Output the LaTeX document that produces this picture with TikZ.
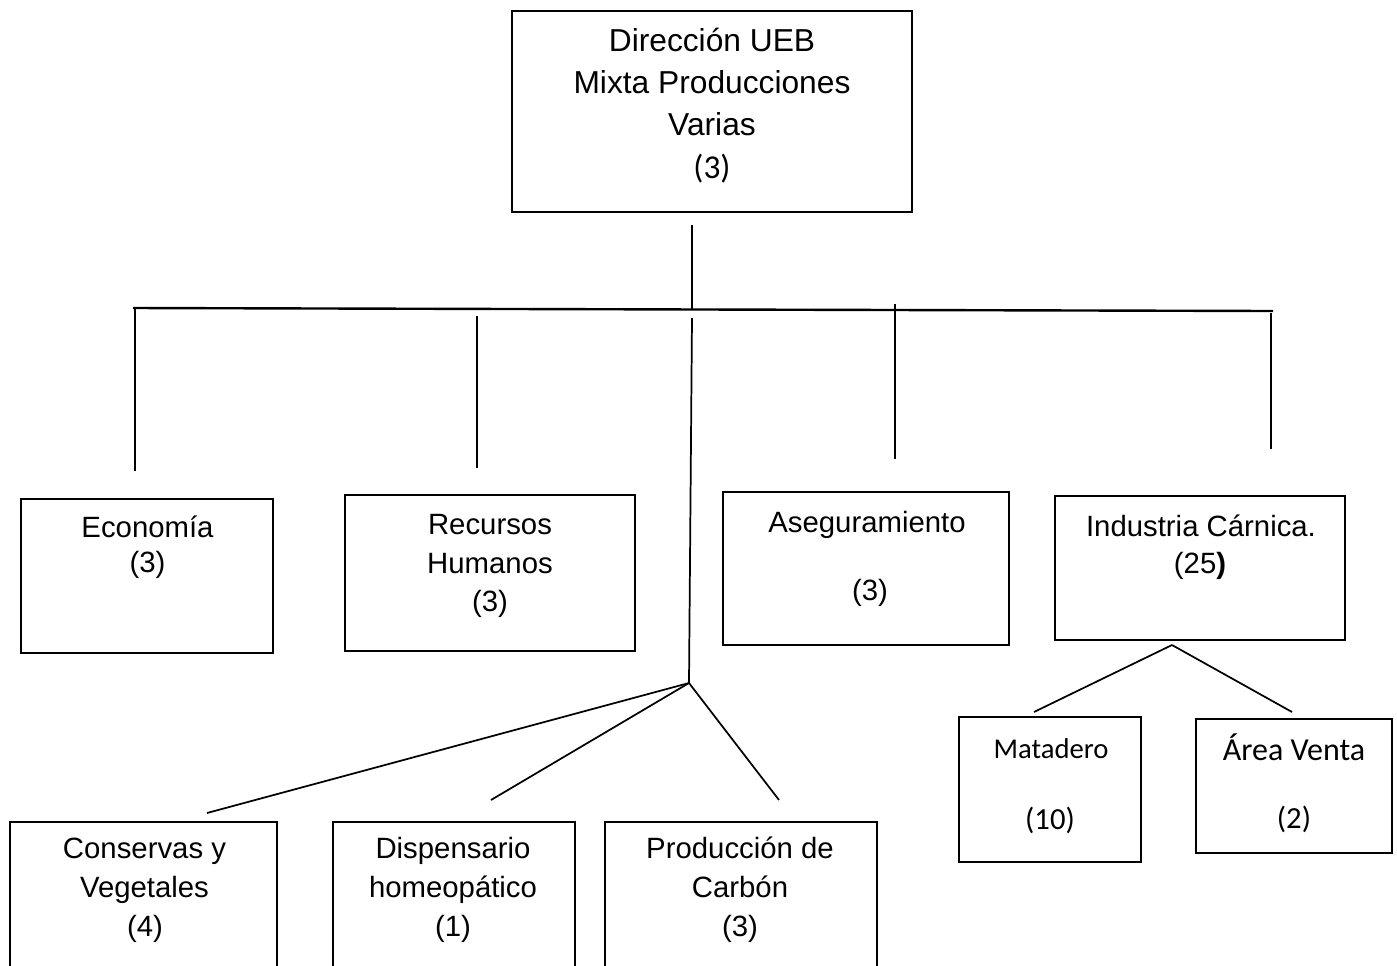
\documentclass[tikz,border=0pt]{standalone}
\usepackage{fontspec}
\setmainfont{Liberation Sans}
\newfontfamily\calib{Carlito}
\begin{document}
\begin{tikzpicture}[x=0.75pt,y=-0.75pt,
  boxst/.style={draw, line width=1.4pt, inner sep=0pt},
  ln/.style={line width=1.3pt},
  hl/.style={line width=1.8pt},
  ar/.style={anchor=base, inner sep=0pt, font=\fontsize{22}{26}\selectfont},
  art/.style={anchor=base, inner sep=0pt, font=\fontsize{23.8}{28}\selectfont},
  cal/.style={anchor=base, inner sep=0pt, font=\calib\fontsize{21.5}{25}\selectfont},
  calb/.style={anchor=base, inner sep=0pt, font=\calib\fontsize{24}{28}\selectfont}]
\clip (0,0) rectangle (1397,965);
% boxes
\node[boxst, minimum width=400*0.75pt, minimum height=201*0.75pt] (top) at (712,111.5) {};
\node[boxst, minimum width=252*0.75pt, minimum height=154*0.75pt] (econ) at (147,576) {};
\node[boxst, minimum width=290*0.75pt, minimum height=156*0.75pt] (rrhh) at (490,573) {};
\node[boxst, minimum width=286*0.75pt, minimum height=153*0.75pt] (aseg) at (866,568.5) {};
\node[boxst, minimum width=290*0.75pt, minimum height=144*0.75pt] (ind) at (1200,568) {};
\node[boxst, minimum width=182*0.75pt, minimum height=145*0.75pt] (mat) at (1050,789.5) {};
\node[boxst, minimum width=196*0.75pt, minimum height=134*0.75pt] (area) at (1294,786) {};
\node[boxst, minimum width=267*0.75pt, minimum height=178*0.75pt] (cons) at (143.5,911) {};
\node[boxst, minimum width=242*0.75pt, minimum height=178*0.75pt] (disp) at (454,911) {};
\node[boxst, minimum width=272*0.75pt, minimum height=178*0.75pt] (prod) at (741,911) {};
% texts
\node[art] (top1) at (712,51) {Dirección UEB};
\node[art] (top2) at (712,93) {Mixta Producciones};
\node[art] (top3) at (712,135) {Varias};
\node[anchor=base, inner sep=0pt, font=\calib\fontsize{25}{29}\selectfont] (top4) at (712,178) {(3)};
\node[ar] (econ1) at (147.5,537) {Economía};
\node[ar] (econ2) at (147.5,572) {(3)};
\node[ar] (rrhh1) at (490,534) {Recursos};
\node[ar] (rrhh2) at (490,573) {Humanos};
\node[ar] (rrhh3) at (490,611) {(3)};
\node[ar] (aseg1) at (867,532) {Aseguramiento};
\node[ar] (aseg2) at (870,600) {(3)};
\node[ar] (ind1) at (1201,536) {Industria Cárnica.};
\node[ar] (ind2) at (1200,573) {(25\textbf{)}};
\node[cal] (mat1) at (1051,758) {Matadero};
\node[cal, font=\calib\fontsize{23}{27}\selectfont] (mat2) at (1050,829) {(10)};
\node[calb] (area1) at (1294,760) {Área Venta};
\node[cal, font=\calib\fontsize{23}{27}\selectfont] (area2) at (1294,828) {(2)};
\node[ar] (cons1) at (144.5,858) {Conservas y};
\node[ar] (cons2) at (144.5,897) {Vegetales};
\node[ar] (cons3) at (145,936) {(4)};
\node[ar] (disp1) at (453,858) {Dispensario};
\node[ar] (disp2) at (453,897) {homeopático};
\node[ar] (disp3) at (453,936) {(1)};
\node[ar] (prod1) at (740,858) {Producción de};
\node[ar] (prod2) at (740,897) {Carbón};
\node[ar] (prod3) at (740,936) {(3)};
% connector coordinates
\coordinate (t0) at (692,225);
\coordinate (t1) at (692,309);
\coordinate (hL) at (133,308);
\coordinate (hR) at (1273,311);
\coordinate (e0) at (135,308);
\coordinate (e1) at (135,471);
\coordinate (r0) at (477,316);
\coordinate (r1) at (477,468);
\coordinate (m0) at (692,318);
\coordinate (fan) at (689,683);
\coordinate (a0) at (895,304);
\coordinate (a1) at (895,459);
\coordinate (i0) at (1271,313);
\coordinate (i1) at (1271,449);
\coordinate (cT) at (207,813);
\coordinate (dT) at (491,800);
\coordinate (pT) at (779,800);
\coordinate (iB) at (1172,645);
\coordinate (mT) at (1034,712);
\coordinate (aT) at (1292,712);
% connectors
\draw[ln] (t0) -- (t1);
\draw[hl] (hL) -- (hR);
\draw[ln] (e0) -- (e1);
\draw[ln] (r0) -- (r1);
\draw[ln] (m0) -- (fan);
\draw[ln] (a0) -- (a1);
\draw[ln] (i0) -- (i1);
\draw[ln] (fan) -- (cT);
\draw[ln] (fan) -- (dT);
\draw[ln] (fan) -- (pT);
\draw[ln] (iB) -- (mT);
\draw[ln] (iB) -- (aT);
\end{tikzpicture}
\end{document}
